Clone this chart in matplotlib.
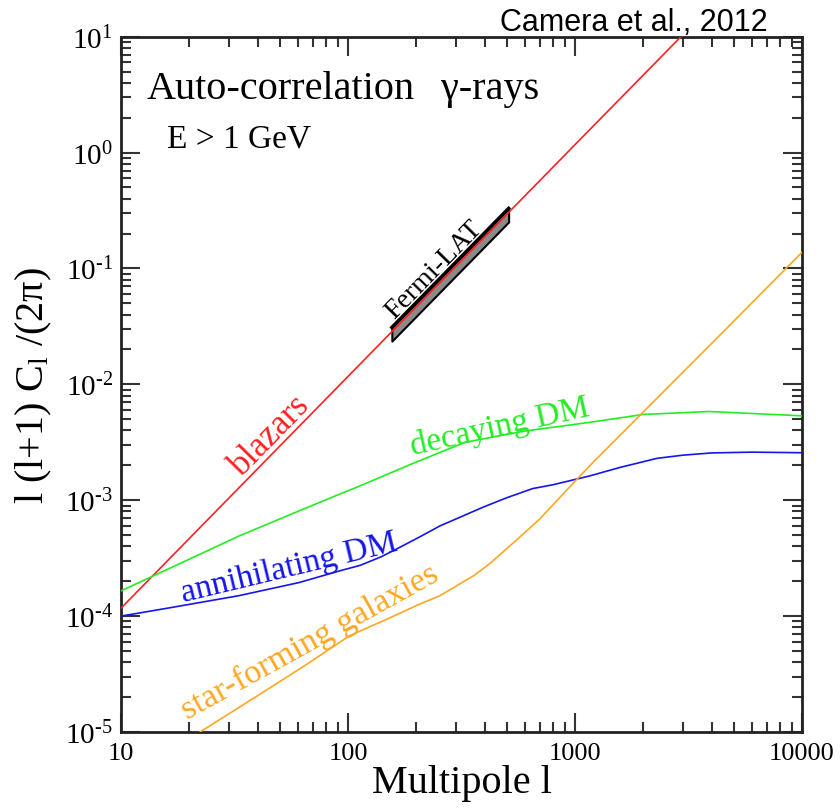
import math

import matplotlib
matplotlib.use("Agg")
import matplotlib.pyplot as plt
from matplotlib.ticker import LogLocator, FixedLocator, FuncFormatter, NullFormatter

# values (multipole l, l(l+1)C_l/2pi)
blazar_l = [10, 100, 1000, 3000]
blazar_cl = [1.17e-4, 1.17e-2, 1.17, 10.5]

decay_l = [10, 20, 33, 60, 92, 113, 190, 327, 600, 1160, 2000, 3900, 10000]
decay_cl = [1.65e-4, 3.1e-4, 4.9e-4, 8.0e-4, 1.13e-3, 1.33e-3, 2.05e-3, 3.16e-3,
            3.95e-3, 4.7e-3, 5.5e-3, 5.83e-3, 5.35e-3]

annih_l = [10, 16.4, 33, 61, 92, 113, 140, 169, 210, 254, 320, 393, 500, 650,
           800, 1160, 1580, 2300, 3000, 4000, 6000, 10000]
annih_cl = [1.0e-4, 1.18e-4, 1.5e-4, 1.95e-4, 2.46e-4, 2.74e-4, 3.25e-4, 3.92e-4,
            4.9e-4, 6.0e-4, 7.3e-4, 8.7e-4, 1.05e-3, 1.26e-3, 1.36e-3, 1.62e-3,
            1.92e-3, 2.3e-3, 2.45e-3, 2.56e-3, 2.6e-3, 2.57e-3]

sfg_l = [22.3, 40, 63, 102, 150, 207, 254, 300, 360, 422, 550, 700, 900, 1160,
         1950, 4350, 10000]
sfg_cl = [1.0e-5, 2.06e-5, 3.63e-5, 6.8e-5, 9.5e-5, 1.27e-4, 1.5e-4, 1.82e-4,
          2.25e-4, 2.85e-4, 4.5e-4, 6.9e-4, 1.17e-3, 1.98e-3, 5.5e-3, 2.66e-2, 0.138]

# Fermi-LAT measured band
fermi_l = [156, 510]
fermi_lo = [0.0236, 0.252]
fermi_hi = [0.031, 0.33]

x_ticks = [10, 100, 1000, 10000]

SERIF = ["Liberation Serif", "DejaVu Serif"]
plt.rcParams["font.family"] = SERIF
plt.rcParams["mathtext.fontset"] = "custom"
plt.rcParams["mathtext.rm"] = "Liberation Serif"
plt.rcParams["mathtext.it"] = "Liberation Serif:italic"

W, H = 840, 812
fig = plt.figure(figsize=(W / 100, H / 100), dpi=100)
ax = fig.add_axes([121 / W, 1 - 733 / H, (802 - 121) / W, (733 - 37.7) / H])


def px(x, y):
    return x / W, 1 - y / H


def y_label(v, _pos):
    return r"$10^{\text{%d}}$" % round(math.log10(v))


ax.fill_between(fermi_l, fermi_lo, fermi_hi, facecolor="#8a8a8a",
                edgecolor="black", lw=1.5, zorder=2)
ax.plot(fermi_l, fermi_hi, color="black", lw=2.5, zorder=2)

ax.plot(blazar_l, blazar_cl, color="#ff2020", lw=1.2, zorder=3)
ax.plot(decay_l, decay_cl, color="#22ee22", lw=1.2, zorder=3)
ax.plot(annih_l, annih_cl, color="#1515ee", lw=1.2, zorder=3)
ax.plot(sfg_l, sfg_cl, color="#ffa722", lw=1.2, zorder=3)

ax.set_xscale("log")
ax.set_yscale("log")
ax.set_xlim(10, 10000)
ax.set_ylim(1e-5, 10)

ax.xaxis.set_major_locator(FixedLocator(x_ticks))
ax.xaxis.set_major_formatter(FuncFormatter(lambda v, _p: f"{int(round(v))}"))
ax.xaxis.set_minor_locator(LogLocator(base=10, subs=range(2, 10)))
ax.xaxis.set_minor_formatter(NullFormatter())
ax.yaxis.set_major_locator(LogLocator(base=10, numticks=10))
ax.yaxis.set_major_formatter(FuncFormatter(y_label))
ax.yaxis.set_minor_locator(LogLocator(base=10, subs=range(2, 10), numticks=20))
ax.yaxis.set_minor_formatter(NullFormatter())

ax.tick_params(which="both", direction="in", top=True, right=True,
               color="#333333", width=1.5)
ax.tick_params(which="major", length=14, labelsize=19, pad=7)
ax.tick_params(axis="y", which="major", labelsize=21, pad=6)
ax.tick_params(which="minor", length=7)
for s in ax.spines.values():
    s.set_linewidth(2)
    s.set_color("#222222")

ax.set_xlabel("Multipole l", fontsize=29, labelpad=0)
ax.set_ylabel("l (l+1) C$_{\\rm l}$ /(2\u03c0)", fontsize=29, labelpad=8)

# curve labels
ax.text(34, 1.61e-3, "blazars", color="#ff2020", fontsize=25,
        rotation=45.6, rotation_mode="anchor", ha="left", va="baseline")
ax.text(193, 2.5e-3, "decaying DM", color="#22ee22", fontsize=24,
        rotation=12.5, rotation_mode="anchor", ha="left", va="baseline")
ax.text(18.8, 1.35e-4, "annihilating DM", color="#1515ee", fontsize=24,
        rotation=13.5, rotation_mode="anchor", ha="left", va="baseline")
ax.text(19.7, 1.29e-5, "star-forming galaxies", color="#ffa722", fontsize=24.5,
        rotation=29, rotation_mode="anchor", ha="left", va="baseline")
ax.text(160, 0.037, "Fermi-LAT", color="black", fontsize=20,
        rotation=45.6, rotation_mode="anchor", ha="left", va="baseline")

fig.text(*px(147, 99), "Auto-correlation", fontsize=29, ha="left", va="baseline")
fig.text(*px(441, 99), "\u03b3-rays", fontsize=29, ha="left", va="baseline")
fig.text(*px(167, 147), "E > 1 GeV", fontsize=24, ha="left", va="baseline")
fig.text(*px(768, 31), "Camera et al., 2012", fontsize=22, ha="right",
         va="baseline", family=["Liberation Sans", "DejaVu Sans"])

fig.savefig("out.png", dpi=100)
